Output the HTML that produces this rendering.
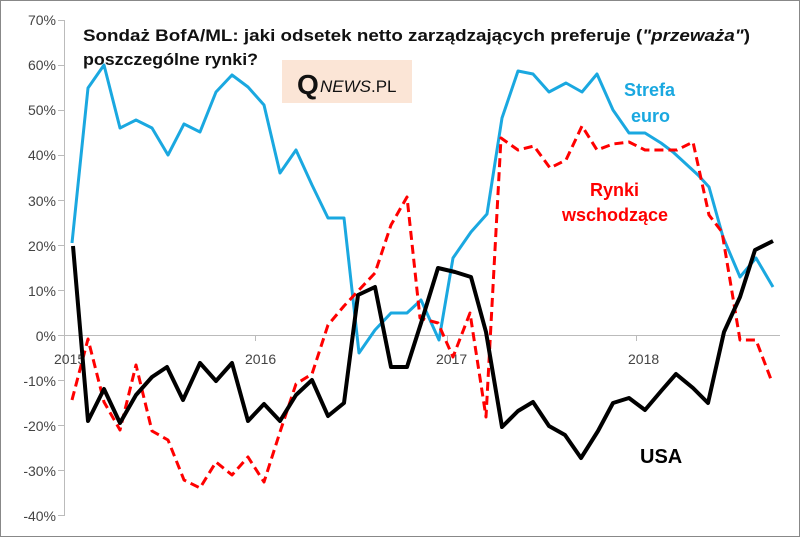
<!DOCTYPE html>
<html><head><meta charset="utf-8"><style>
body{margin:0;background:#fff}
svg{display:block}
text{font-family:"Liberation Sans",sans-serif}
</style></head><body>
<svg width="800" height="537" viewBox="0 0 800 537">
<rect x="0.5" y="0.5" width="799" height="536" fill="#fff" stroke="#888" stroke-width="1"/>
<g fill="#444" font-size="14" text-anchor="end">
<text x="56" y="25">70%</text><text x="56" y="70">60%</text><text x="56" y="115">50%</text>
<text x="56" y="160">40%</text><text x="56" y="206">30%</text><text x="56" y="251">20%</text>
<text x="56" y="296">10%</text><text x="56" y="341">0%</text><text x="56" y="386">-10%</text>
<text x="56" y="431">-20%</text><text x="56" y="476">-30%</text><text x="56" y="521">-40%</text>
</g>
<g stroke="#bbb" stroke-width="1">
<line x1="64.5" y1="20" x2="64.5" y2="516"/>
<line x1="58" y1="20.5" x2="64" y2="20.5"/><line x1="58" y1="65.5" x2="64" y2="65.5"/><line x1="58" y1="110.5" x2="64" y2="110.5"/><line x1="58" y1="155.5" x2="64" y2="155.5"/><line x1="58" y1="200.5" x2="64" y2="200.5"/><line x1="58" y1="245.5" x2="64" y2="245.5"/><line x1="58" y1="290.5" x2="64" y2="290.5"/><line x1="58" y1="335.5" x2="64" y2="335.5"/><line x1="58" y1="380.5" x2="64" y2="380.5"/><line x1="58" y1="425.5" x2="64" y2="425.5"/><line x1="58" y1="470.5" x2="64" y2="470.5"/><line x1="58" y1="515.5" x2="64" y2="515.5"/>
<line x1="64" y1="335.5" x2="780" y2="335.5"/>
<line x1="255.5" y1="335" x2="255.5" y2="341"/><line x1="447.5" y1="335" x2="447.5" y2="341"/><line x1="636.5" y1="335" x2="636.5" y2="341"/>
</g>
<g fill="#444" font-size="14">
<text x="54" y="364">2015</text><text x="245" y="364">2016</text><text x="436" y="364">2017</text><text x="628" y="364">2018</text>
</g>
<text x="83" y="41" font-size="17" font-weight="bold" fill="#111" textLength="667" lengthAdjust="spacingAndGlyphs">Sondaż BofA/ML: jaki odsetek netto zarządzających  preferuje (<tspan font-style="italic">"przeważa"</tspan>)</text>
<text x="83" y="65" font-size="17" font-weight="bold" fill="#111" textLength="175" lengthAdjust="spacingAndGlyphs">poszczególne rynki?</text>
<rect x="282" y="60" width="130" height="43" fill="#fbe5d6"/>
<text x="297" y="94" font-family="Liberation Serif,serif" font-size="28" font-weight="bold" fill="#111">Q</text>
<text x="320" y="92" font-size="17" fill="#111"><tspan font-style="italic">NEWS</tspan>.PL</text>
<polyline fill="none" stroke="#1aa8e0" stroke-width="3" stroke-linejoin="round" points="72,243 88,88 104,65 120,128 136,120 152,128 168,155 184,124 200,132 216,92 232,75 248,87 264,105 280,173 296,150 312,185 328,218 344,218 359,353 375,330 391,313 407,313 421,300 439,340 453,258 471,232 487,214 502,118 518,71 533,74 549,92 566,83 582,92 597,74 613,110 629,133 645,133 661,143 673,152 698,175 709,187 723,237 740,277 756,258 773,287"/>
<polyline fill="none" stroke="#ff0000" stroke-width="3" stroke-dasharray="9,5" stroke-linejoin="round" points="72,400 88,339 104,402 120,430 136,365 152,431 168,440 184,480 200,488 216,462 232,475 248,457 264,482 280,432 296,384 312,374 328,325 344,306 359,290 375,273 391,225 407,197 420,318 438,323 453,357 470,313 486,417 501,138 518,150 534,146 550,168 566,160 582,126 597,150 613,144 629,142 645,150 661,150 677,150 693,142 709,215 722,232 740,340 756,340 772,382"/>
<polyline fill="none" stroke="#000" stroke-width="4" stroke-linejoin="round" points="73,246 88,421 104,389 120,423 136,395 152,377 167,367 183,400 200,363 216,381 232,363 248,421 264,404 280,421 296,395 312,380 328,416 344,403 358,295 375,287 391,367 407,367 422,320 438,268 455,272 471,277 486,332 502,427 518,411 533,402 549,426 565,435 581,458 598,431 613,403 629,398 645,410 662,390 676,374 693,388 708,403 724,332 740,297 755,250 773,241"/>
<g font-size="18" font-weight="bold">
<text x="624" y="96" fill="#1aa8e0">Strefa</text>
<text x="631" y="122" fill="#1aa8e0">euro</text>
<text x="590" y="196" fill="#ff0000">Rynki</text>
<text x="562" y="221" fill="#ff0000">wschodzące</text>
<text x="640" y="463" fill="#000" font-size="20">USA</text>
</g>
</svg>
</body></html>
